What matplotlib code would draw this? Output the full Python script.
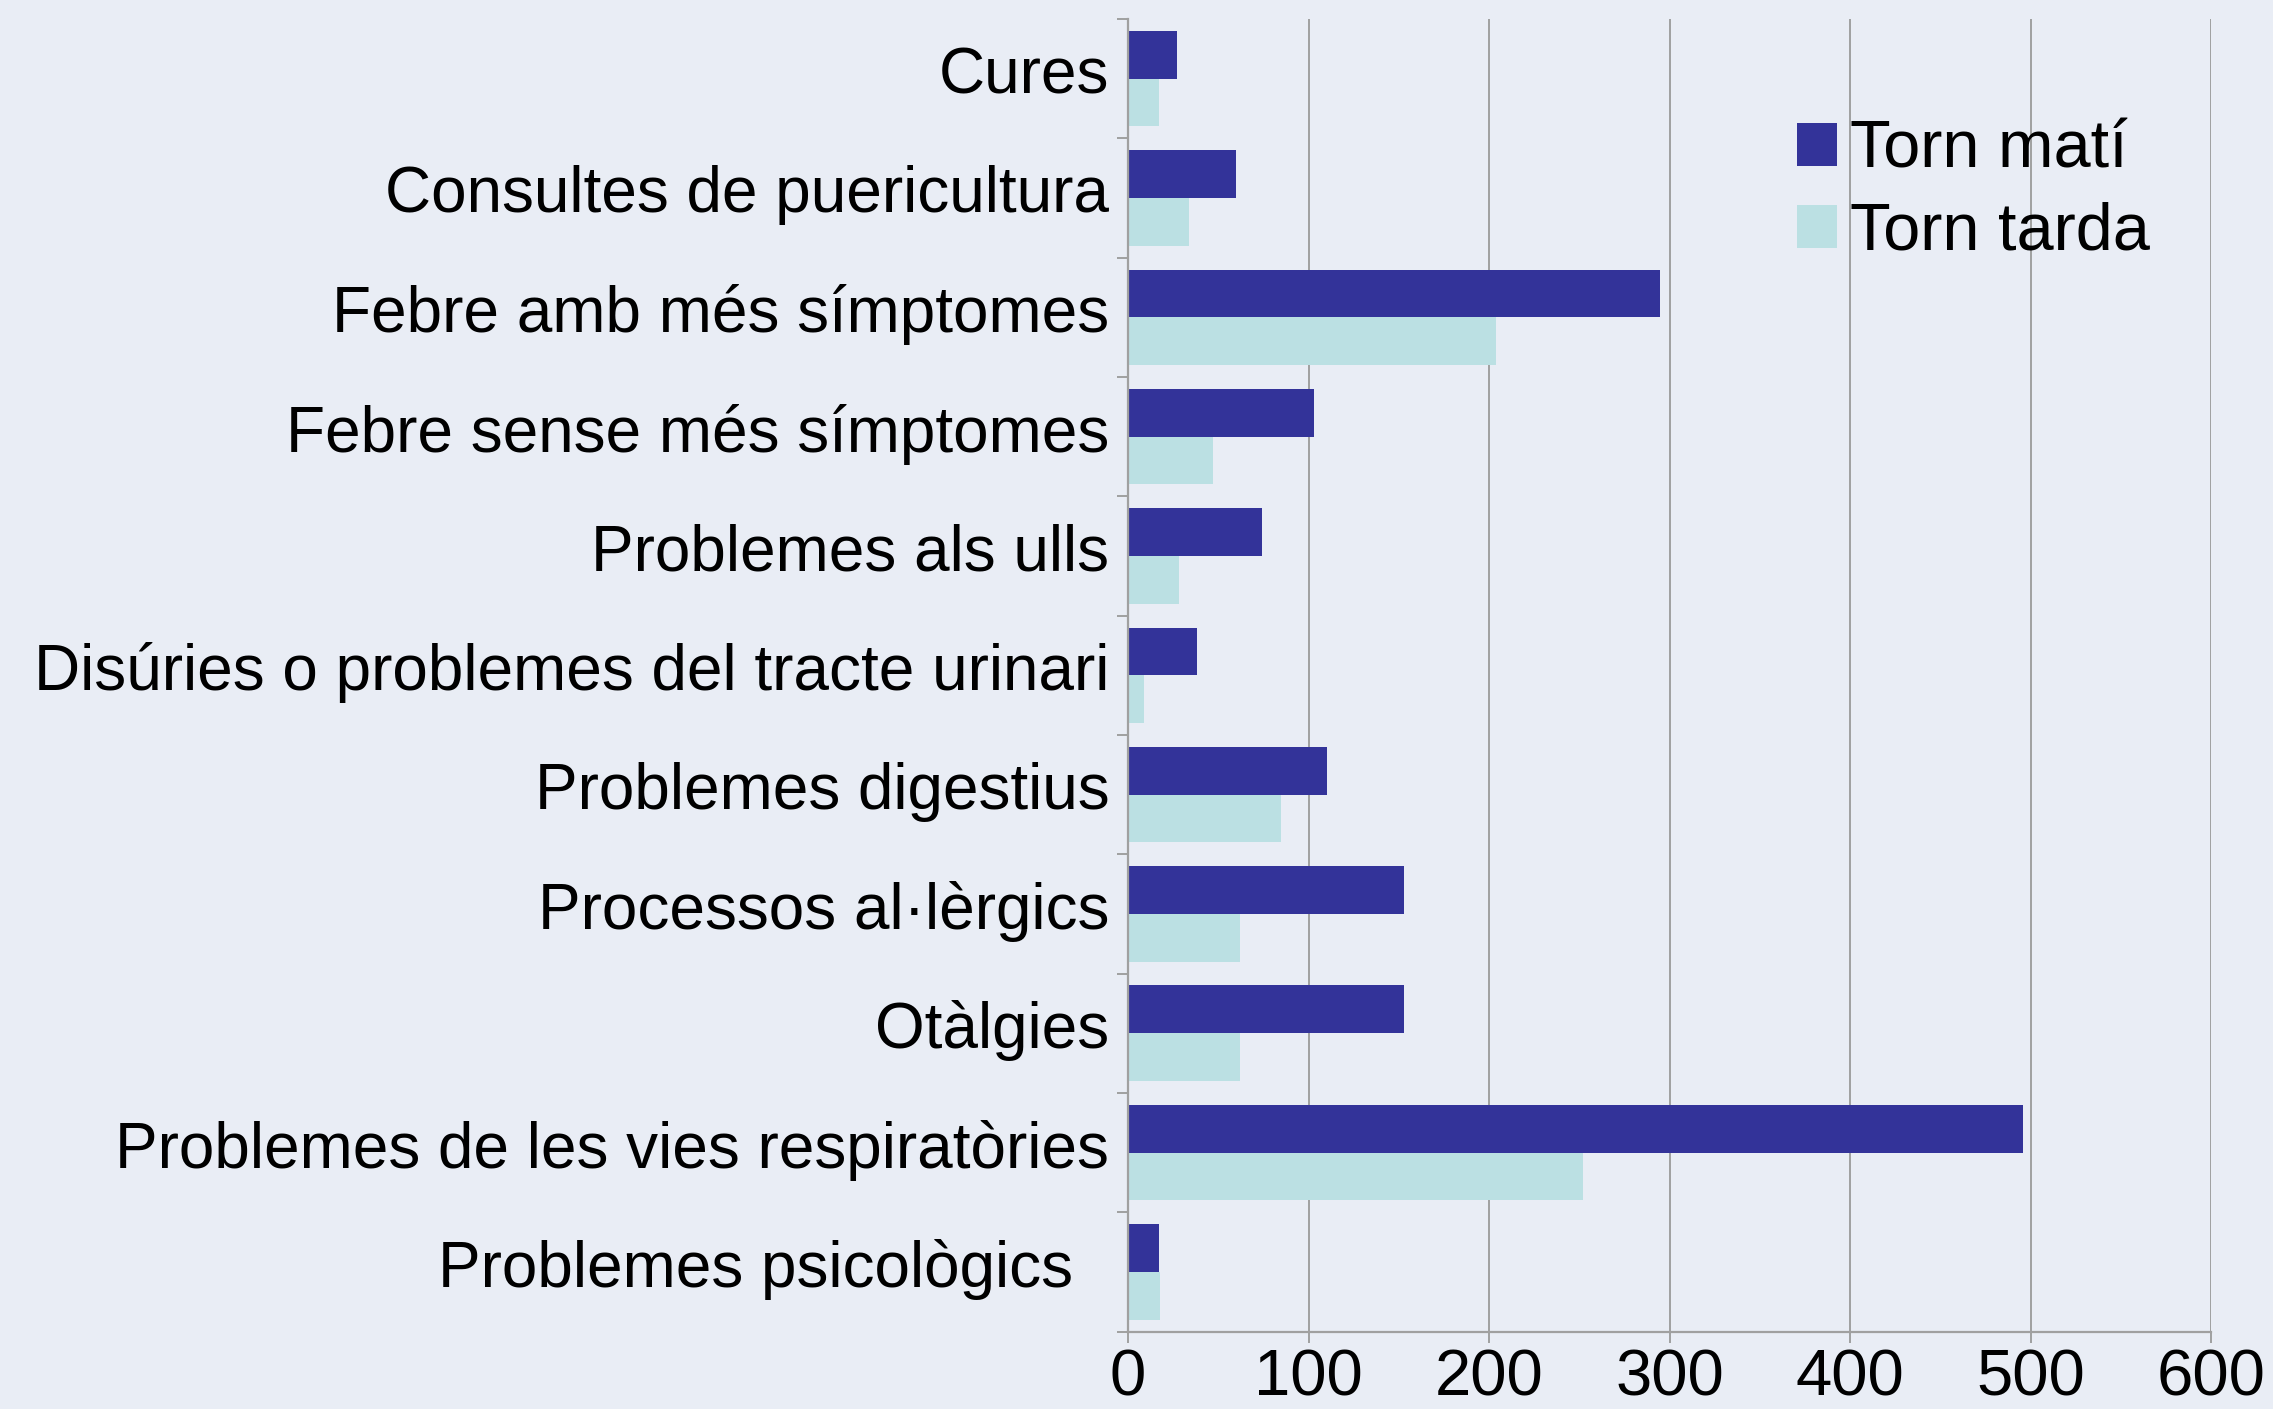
import matplotlib
matplotlib.use("Agg")
import matplotlib.pyplot as plt
import matplotlib.transforms as mtransforms
import numpy as np

# categories, top to bottom as in the reference
CATEGORIES = [
    "Cures",
    "Consultes de puericultura",
    "Febre amb més símptomes",
    "Febre sense més símptomes",
    "Problemes als ulls",
    "Disúries o problemes del tracte urinari",
    "Problemes digestius",
    "Processos al·lèrgics",
    "Otàlgies",
    "Problemes de les vies respiratòries",
    "Problemes psicològics",
]
TORN_MATI = [27, 60, 295, 103, 74, 38, 110, 153, 153, 496, 17]
TORN_TARDA = [17, 34, 204, 47, 28, 9, 85, 62, 62, 252, 18]
SERIES_LABELS = ["Torn matí", "Torn tarda"]
X_TICKS = [0, 100, 200, 300, 400, 500, 600]

COL_MATI = "#333399"
COL_TARDA = "#bbe0e3"
BG = "#e9edf5"
GRID = "#a0a0a0"

plt.rcParams["font.family"] = ["Liberation Sans", "DejaVu Sans"]

DPI = 100
fig = plt.figure(figsize=(2273 / DPI, 1409 / DPI), dpi=DPI, facecolor=BG)
ax = fig.add_axes([1128 / 2273, 1 - 1331.5 / 1409, (2211 - 1128) / 2273, (1331.5 - 19) / 1409])
ax.set_facecolor(BG)

n = len(CATEGORIES)
y = np.arange(n)
h = 0.4
ax.barh(y - h / 2, TORN_MATI, height=h, color=COL_MATI, label=SERIES_LABELS[0], zorder=3)
ax.barh(y + h / 2, TORN_TARDA, height=h, color=COL_TARDA, label=SERIES_LABELS[1], zorder=3)

ax.set_ylim(n - 0.5, -0.5)
ax.set_xlim(0, 600)

# category labels at centres, tick marks at boundaries
ax.set_yticks(y)
ax.set_yticklabels(CATEGORIES, fontsize=46)
ax.tick_params(axis="y", which="major", length=0, pad=13.5)
ax.set_yticks(np.arange(n + 1) - 0.5, minor=True)
ax.tick_params(axis="y", which="minor", length=8, width=1.4, color=GRID, direction="out")

ax.set_xticks(X_TICKS)
ax.set_xticklabels([str(v) for v in X_TICKS], fontsize=47)
ax.tick_params(axis="x", length=8, width=1.4, color=GRID, direction="out", pad=4)

ax.grid(axis="x", color=GRID, linewidth=1.4, zorder=0)
ax.set_axisbelow(True)
for side in ("top", "right"):
    ax.spines[side].set_visible(False)
for side in ("left", "bottom"):
    ax.spines[side].set_color(GRID)
    ax.spines[side].set_linewidth(1.6)
    ax.spines[side].set_zorder(4)

# labels sit a little above the category centre in the reference
up = mtransforms.ScaledTranslation(0, 9 / DPI, fig.dpi_scale_trans)
for lab in ax.get_yticklabels():
    lab.set_transform(lab.get_transform() + up)
# last label sits further left in the reference
last = ax.get_yticklabels()[-1]
last.set_transform(last.get_transform() + mtransforms.ScaledTranslation(-36 / DPI, 0, fig.dpi_scale_trans))

ax.legend(loc="upper left", bbox_to_anchor=(1797 / 2273, 1 - 120 / 1409), bbox_transform=fig.transFigure,
          frameon=False, fontsize=48, handlelength=0.6, handleheight=0.6, handletextpad=0.2,
          labelspacing=0.3, borderpad=0, borderaxespad=0)

fig.savefig("out.png", dpi=DPI, facecolor=BG)
